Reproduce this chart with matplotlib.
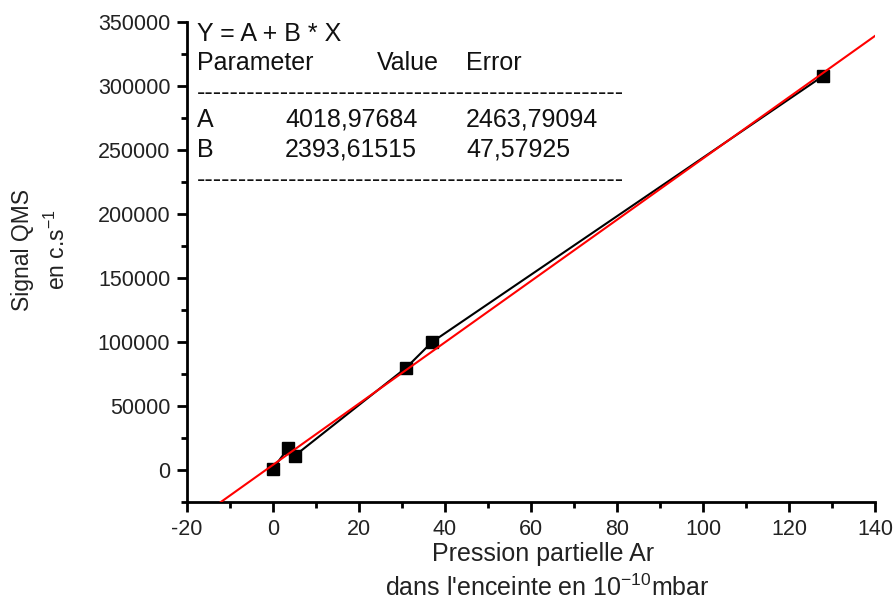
import matplotlib
matplotlib.use("Agg")
import matplotlib.pyplot as plt
import numpy as np
from matplotlib.ticker import MultipleLocator

plt.rcParams['font.family'] = ['Liberation Sans', 'DejaVu Sans']
plt.rcParams['mathtext.fontset'] = 'custom'
plt.rcParams['mathtext.rm'] = 'Liberation Sans'
plt.rcParams['mathtext.it'] = 'Liberation Sans'

# Data
pression = [0, 3.5, 5, 31, 37, 128]
signal = [1000, 17000, 11000, 80000, 100000, 308000]
fit_A = 4018.97684
fit_B = 2393.61515
fit_text_params = ["A", "B"]
fit_text_values = ["4018,97684", "2393,61515"]
fit_text_errors = ["2463,79094", "47,57925"]
x_ticks = [-20, 0, 20, 40, 60, 80, 100, 120, 140]
y_ticks = [0, 50000, 100000, 150000, 200000, 250000, 300000, 350000]

W, H = 893, 601
fig = plt.figure(figsize=(W / 100, H / 100), dpi=100)
ax = fig.add_axes([187 / W, 1 - 502 / H, (875 - 187) / W, (502 - 22) / H])

ax.plot(pression, signal, color='black', lw=1.5, marker='s', ms=8,
        mfc='black', mec='black', zorder=3, clip_on=False)
xf = np.array([-20, 140])
ax.plot(xf, fit_A + fit_B * xf, color='#ff0000', lw=1.5, zorder=4)

ax.set_xlim(-20, 140)
ax.set_ylim(-25000, 350000)
ax.set_xticks(x_ticks)
ax.set_yticks(y_ticks)
ax.set_xticklabels([str(v) for v in x_ticks])
ax.set_yticklabels([str(v) for v in y_ticks])
ax.xaxis.set_minor_locator(MultipleLocator(10))
ax.yaxis.set_minor_locator(MultipleLocator(25000))

for s in ['top', 'right']:
    ax.spines[s].set_visible(False)
for s in ['left', 'bottom']:
    ax.spines[s].set_linewidth(2)

ax.tick_params(which='major', direction='out', length=7, width=2,
               labelsize=15.5, colors='black', pad=5)
ax.tick_params(which='minor', direction='out', length=4, width=2)
for lab in ax.get_xticklabels() + ax.get_yticklabels():
    lab.set_color('#222222')

# Axis labels
fig.text(22 / W, 1 - 250 / H, "Signal QMS", rotation=90, ha='center', va='center',
         fontsize=16.5, color='#222222')
fig.text(57 / W, 1 - 250 / H, r"en c.s$^{-1}$", rotation=90, ha='center', va='center',
         fontsize=16.5, color='#222222')
fig.text(543 / W, 1 - 554 / H, "Pression partielle Ar", ha='center', va='center',
         fontsize=18, color='#222222')
fig.text(547 / W, 1 - 588 / H, r"dans l'enceinte en 10$^{-10}$mbar", ha='center', va='center',
         fontsize=18, color='#222222')

# Fit result text box
fs = 18
tc = '#111111'
fig.text(197 / W, 1 - 34 / H, "Y = A + B * X", ha='left', va='center', fontsize=fs, color=tc)
fig.text(197 / W, 1 - 63 / H, "Parameter", ha='left', va='center', fontsize=fs, color=tc)
fig.text(377 / W, 1 - 63 / H, "Value", ha='left', va='center', fontsize=fs, color=tc)
fig.text(466 / W, 1 - 63 / H, "Error", ha='left', va='center', fontsize=fs, color=tc)
fig.text(197 / W, 1 - 93 / H, "-" * 51, ha='left', va='center', fontsize=fs, color=tc)
rows_y = [120, 150]
for p, v, e, yy in zip(fit_text_params, fit_text_values, fit_text_errors, rows_y):
    fig.text(197 / W, 1 - yy / H, p, ha='left', va='center', fontsize=fs, color=tc)
    fig.text(285 / W, 1 - yy / H, v, ha='left', va='center', fontsize=fs, color=tc)
    fig.text(466 / W, 1 - yy / H, e, ha='left', va='center', fontsize=fs, color=tc)
fig.text(197 / W, 1 - 180 / H, "-" * 51, ha='left', va='center', fontsize=fs, color=tc)

fig.savefig("out.png", dpi=100)
